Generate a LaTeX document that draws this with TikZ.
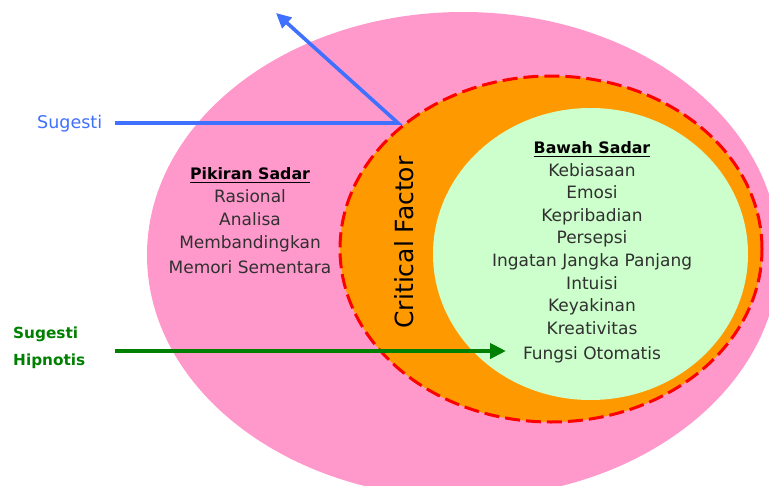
\documentclass[tikz,border=0pt]{standalone}
\usepackage{fontspec}
\setmainfont{DejaVu Sans}
\usetikzlibrary{shapes.geometric,arrows.meta}
\definecolor{pinkbg}{RGB}{255,153,204}
\definecolor{orangering}{RGB}{255,153,0}
\definecolor{greencore}{RGB}{204,255,204}
\definecolor{redline}{RGB}{255,0,0}
\definecolor{bluearrow}{RGB}{64,112,255}
\definecolor{greenarrow}{RGB}{0,128,0}
\definecolor{txt}{RGB}{48,48,48}
\begin{document}
\begin{tikzpicture}[x=1pt,y=-1pt,
  region/.style={ellipse,inner sep=0pt,draw=none},
  listtxt/.style={anchor=base,inner sep=0pt,text=txt,font=\fontsize{17}{20}\selectfont},
  titletxt/.style={anchor=base,inner sep=0pt,text=black,font=\fontsize{15.8}{19}\selectfont\bfseries},
  uline/.style={line width=1.4pt,black},
  flow/.style={line width=3.6pt},
  greenlbl/.style={anchor=base west,inner sep=0pt,text=greenarrow,font=\fontsize{15.3}{18}\selectfont\bfseries}]
\useasboundingbox (0,0) rectangle (769,485);
\fill[white] (0,0) rectangle (769,485);
\begin{scope}
\clip (0,0) rectangle (769,485);
\node[region,fill=pinkbg,minimum width=632pt,minimum height=486pt] (outer) at (463,255) {};
\node[region,fill=orangering,draw=redline,line width=3pt,dash pattern=on 15pt off 6pt,
      minimum width=422pt,minimum height=346pt] (ring) at (551,249) {};
\node[region,fill=greencore,minimum width=315pt,minimum height=292pt] (core) at (590.5,254) {};
\end{scope}

% Critical factor
\node[rotate=90,anchor=base,inner sep=0pt,font=\fontsize{25}{28}\selectfont] (cf) at (413,242.5) {Critical Factor};

% Pikiran Sadar
\node[titletxt] (ps) at (250,179.5) {Pikiran Sadar};
\draw[uline] ([yshift=-3pt]ps.base west) -- ([yshift=-3pt]ps.base east);
\node[listtxt] (p1) at (250,202.7) {Rasional};
\node[listtxt] (p2) at (250,225.5) {Analisa};
\node[listtxt] (p3) at (250,248) {Membandingkan};
\node[listtxt] (p4) at (250,273.5) {Memori Sementara};

% Bawah Sadar
\node[titletxt] (bs) at (592,153.5) {Bawah Sadar};
\draw[uline] ([yshift=-3pt]bs.base west) -- ([yshift=-3pt]bs.base east);
\node[listtxt] (b1) at (592,176.5) {Kebiasaan};
\node[listtxt] (b2) at (592,198.5) {Emosi};
\node[listtxt] (b3) at (592,221.5) {Kepribadian};
\node[listtxt] (b4) at (592,243.5) {Persepsi};
\node[listtxt] (b5) at (592,266.5) {Ingatan Jangka Panjang};
\node[listtxt] (b6) at (592,289) {Intuisi};
\node[listtxt] (b7) at (592,311.5) {Keyakinan};
\node[listtxt] (b8) at (592,334) {Kreativitas};
\node[listtxt] (b9) at (592,359.5) {Fungsi Otomatis};

% Sugesti (blue)
\node[anchor=base west,inner sep=0pt,text=bluearrow,font=\fontsize{17.5}{20}\selectfont] (sug) at (37,128) {Sugesti};
\coordinate (bstart) at (115,123);
\coordinate (bbend) at (398,123);
\coordinate (btip) at (276,13);
\draw[flow,bluearrow,-{Triangle[length=15pt,width=14pt]}] (bstart) -- (bbend) -- (btip);

% Sugesti Hipnotis (green)
\node[greenlbl] (hs) at (13,338.5) {Sugesti};
\node[greenlbl] (hh) at (13,365) {Hipnotis};
\coordinate (gstart) at (115,351);
\coordinate (gtip) at (506,351);
\draw[flow,greenarrow,line width=4pt,-{Triangle[length=16pt,width=15pt]}] (gstart) -- (gtip);
\end{tikzpicture}
\end{document}
